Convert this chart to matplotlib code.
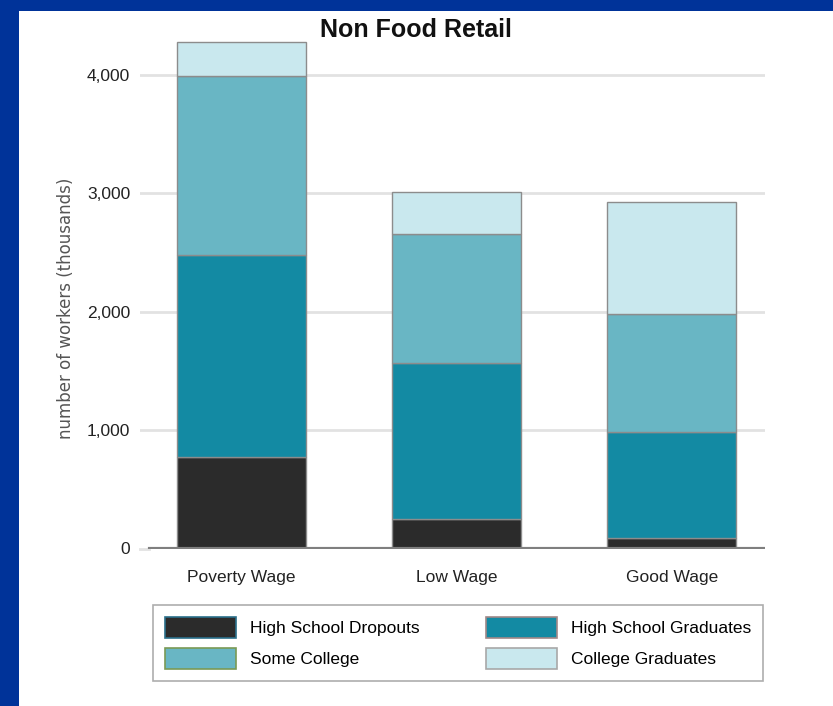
import matplotlib.pyplot as plt
import matplotlib.patches as mpatches
import numpy as np

plt.rcParams['font.family'] = ['Liberation Sans', 'DejaVu Sans']

# data (thousands of workers)
wage_levels = ['Poverty Wage', 'Low Wage', 'Good Wage']
dropouts = [780, 250, 90]
hs_grads = [1700, 1320, 900]
some_college = [1510, 1090, 995]
college_grads = [290, 350, 940]

series_names = ['High School Dropouts', 'High School Graduates', 'Some College', 'College Graduates']
series_colors = ['#2b2b2b', '#138aa3', '#69b6c4', '#c9e8ee']
yticks = [0, 1000, 2000, 3000, 4000]
ytick_labels = ['0', '1,000', '2,000', '3,000', '4,000']

fig = plt.figure(figsize=(8.33, 7.06), dpi=100)
fig.patch.set_facecolor('#003399')
# white panel inside the blue frame
fig.patches.append(mpatches.Rectangle((19 / 833, 0), 1, 1 - 11 / 706,
                                      transform=fig.transFigure, facecolor='white',
                                      edgecolor='none', zorder=-5))

ax = fig.add_axes([140 / 833, 157 / 706, 625 / 833, 515.5 / 706])
ax.set_facecolor('none')

x = np.arange(len(wage_levels))
bottom = np.zeros(len(wage_levels))
bars = []
for vals, name, col in zip([dropouts, hs_grads, some_college, college_grads], series_names, series_colors):
    b = ax.bar(x, vals, width=0.6, bottom=bottom, color=col, edgecolor='#8c8c8c',
               linewidth=1, label=name, zorder=3)
    bars.append(b)
    bottom += np.array(vals)

ax.set_xlim(-0.472, 2.433)
ax.set_ylim(0, 4350)
ax.set_yticks(yticks[1:])
ax.set_yticklabels(ytick_labels[1:], fontsize=12.5, color='#222222')
for y in yticks[1:]:
    ax.axhline(y, color='#e2e2e2', linewidth=2, zorder=1)
ax.axhline(0, xmin=10 / 625, color='#7f7f7f', linewidth=3, zorder=4)
ax.plot([-0.472, -0.43], [0, 0], color='#e2e2e2', linewidth=2, clip_on=False, zorder=1)
ax.text(-0.52, 0, '0', ha='right', va='center', fontsize=12.5, color='#222222')
ax.tick_params(axis='y', length=0, pad=7)
ax.set_xticks(x)
ax.set_xticklabels(wage_levels, fontsize=12.5, color='#222222')
ax.tick_params(axis='x', length=0, pad=15)
for s in ax.spines.values():
    s.set_visible(False)

fig.text(416 / 833, 1 - 30 / 706, 'Non Food Retail', ha='center', va='center',
         fontsize=18, fontweight='bold', color='#111111')
fig.text(66 / 833, 1 - 308 / 706, 'number of workers (thousands)', rotation=90,
         ha='center', va='center', fontsize=12, color='#555555', family='DejaVu Sans')

# legend fills column by column: dropouts, some college | hs grads, college grads
order = [0, 2, 1, 3]
leg = fig.legend([bars[i] for i in order], [series_names[i] for i in order], ncol=2,
                 loc='lower left',
                 bbox_to_anchor=(153 / 833, 25 / 706, 610 / 833, 83 / 706), mode='expand',
                 fontsize=12.5, frameon=True, fancybox=False, borderaxespad=0,
                 handlelength=4.1, handleheight=1.5, handletextpad=0.8,
                 labelspacing=0.55, borderpad=0.7)
leg.get_frame().set_edgecolor('#999999')
leg.get_frame().set_linewidth(1.2)
for p, ec in zip(leg.get_patches(), ['#2a6f8a', '#7a9a55', '#a08888', '#a8a8a8']):
    p.set_edgecolor(ec)
    p.set_linewidth(1.2)

fig.savefig('out.png', dpi=100, facecolor=fig.get_facecolor())
